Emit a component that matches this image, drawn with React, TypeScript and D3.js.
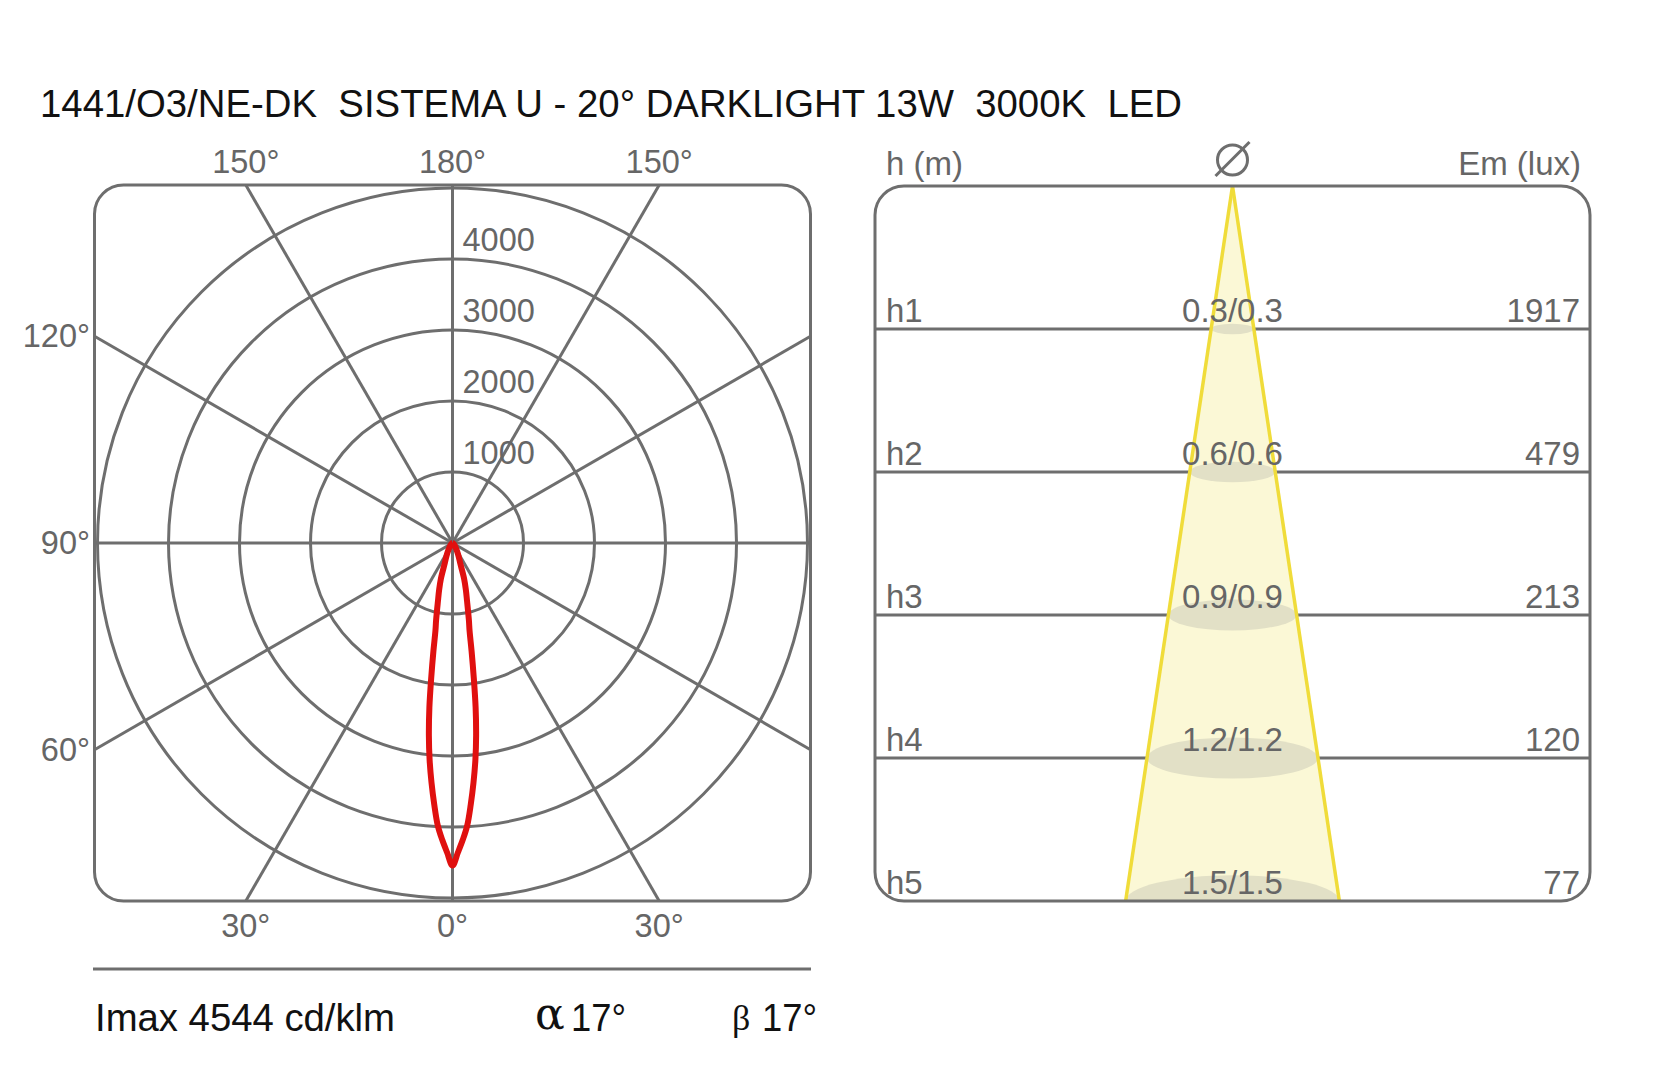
import React from "react";
import * as d3 from "d3";

const TITLE = "1441/O3/NE-DK  SISTEMA U - 20° DARKLIGHT 13W  3000K  LED";
const ringValues = [1000, 2000, 3000, 4000, 5000];
const ringLabels = ["1000", "2000", "3000", "4000"];
const spokeAngles = [0, 30, 60, 90, 120, 150, 180, 210, 240, 270, 300, 330];
const topLabels = ["150°", "180°", "150°"];
const sideLabels = ["120°", "90°", "60°"];
const bottomLabels = ["30°", "0°", "30°"];

// luminous intensity (cd/klm) by angle from nadir (deg), symmetric
const curveAngles = [0, 1, 2, 3, 4, 5, 6, 7, 8, 9, 10, 11, 12, 14, 16, 18, 21, 25, 30, 40, 50, 60, 70, 80, 90];
const curveValues = [4544, 4360, 4180, 3980, 3690, 3390, 3080, 2730, 2340, 1910, 1550, 1260, 1110, 850, 680, 530, 300, 200, 120, 50, 20, 8, 2, 0, 0];

const heightLabels = ["h1", "h2", "h3", "h4", "h5"];
const heights = [1, 2, 3, 4, 5];
const diameterLabels = ["0.3/0.3", "0.6/0.6", "0.9/0.9", "1.2/1.2", "1.5/1.5"];
const illuminance = ["1917", "479", "213", "120", "77"];
const beamAngle = 17;

const GRAY = "#6e6e6e";
const TXT = "#666666";
const FONT = "Liberation Sans, Arial, sans-serif";

export default function App() {
  // polar panel
  const cx = 452.5, cy = 543, H = 358;
  const rScale = d3.scaleLinear().domain([0, 5000]).range([0, 355]);

  const spokeEnd = (deg: number) => {
    const a = (deg * Math.PI) / 180;
    const dx = Math.sin(a), dy = Math.cos(a);
    const t = H / Math.max(Math.abs(dx), Math.abs(dy));
    return [cx + dx * t, cy + dy * t];
  };

  const pts: [number, number][] = [];
  for (let i = curveAngles.length - 1; i >= 0; i--) pts.push([-curveAngles[i], curveValues[i]]);
  for (let i = 1; i < curveAngles.length; i++) pts.push([curveAngles[i], curveValues[i]]);
  const radial = d3
    .lineRadial<[number, number]>()
    .angle((d) => Math.PI + (d[0] * Math.PI) / 180)
    .radius((d) => rScale(d[1]))
    .curve(d3.curveCatmullRom.alpha(0.5));
  const lobe = radial(pts) || "";

  const sideOff = H * Math.tan(Math.PI / 6);

  // right panel
  const px0 = 875, px1 = 1590, py0 = 186, py1 = 901;
  const pcx = (px0 + px1) / 2;
  const yScale = d3.scaleLinear().domain([0, 5]).range([py0, py1]);
  const tanHalf = Math.tan(((beamAngle / 2) * Math.PI) / 180);
  const halfW = (h: number) => (yScale(h) - py0) * tanHalf;
  const coneBottom = halfW(5);

  return (
    <svg width={1659} height={1080} style={{ position: "absolute", left: 0, top: 0, background: "#fff" }} fontFamily={FONT}>
      <rect x={0} y={0} width={1659} height={1080} fill="#fff" />
      <defs>
        <clipPath id="rp">
          <rect x={px0} y={py0} width={px1 - px0} height={py1 - py0} rx={29} ry={29} />
        </clipPath>
      </defs>

      <text x={40} y={117} fontSize={38} fill="#111" textLength={1142} lengthAdjust="spacingAndGlyphs" xmlSpace="preserve" style={{ whiteSpace: "pre" }}>
        {TITLE}
      </text>

      {/* Polar panel */}
      <g stroke={GRAY} strokeWidth={3} fill="none">
        {ringValues.map((v) => (
          <circle key={v} cx={cx} cy={cy} r={rScale(v)} />
        ))}
        {spokeAngles.map((a) => {
          const [x, y] = spokeEnd(a);
          return <line key={a} x1={cx} y1={cy} x2={x} y2={y} />;
        })}
        <rect x={cx - H} y={cy - H} width={2 * H} height={2 * H} rx={29} ry={29} />
      </g>
      <g fill={TXT} fontSize={32.5}>
        {ringLabels.map((l, i) => (
          <text key={l} x={cx + 10} y={cy - rScale(ringValues[i]) - 8}>
            {l}
          </text>
        ))}
        {topLabels.map((l, i) => (
          <text key={"t" + i} x={cx + (i - 1) * sideOff} y={173} textAnchor="middle">
            {l}
          </text>
        ))}
        {bottomLabels.map((l, i) => (
          <text key={"b" + i} x={cx + (i - 1) * sideOff} y={937} textAnchor="middle">
            {l}
          </text>
        ))}
        {sideLabels.map((l, i) => (
          <text key={"s" + i} x={90} y={cy + (i - 1) * sideOff + 11} textAnchor="end">
            {l}
          </text>
        ))}
      </g>
      <path d={lobe} transform={`translate(${cx},${cy})`} fill="none" stroke="#e0100f" strokeWidth={6} strokeLinejoin="round" />

      <line x1={93} y1={969} x2={811} y2={969} stroke={GRAY} strokeWidth={3} />
      <text x={95} y={1031} fontSize={38} fill="#111" textLength={300} lengthAdjust="spacingAndGlyphs">
        Imax 4544 cd/klm
      </text>
      <text x={535} y={1029} fontSize={44} fill="#111" fontFamily="DejaVu Serif, serif">
        α
      </text>
      <text x={571} y={1031} fontSize={38} fill="#111" textLength={55} lengthAdjust="spacingAndGlyphs">
        17°
      </text>
      <text x={732} y={1030} fontSize={36} fill="#111" fontFamily="Liberation Serif, serif">
        β
      </text>
      <text x={762} y={1031} fontSize={38} fill="#111" textLength={55} lengthAdjust="spacingAndGlyphs">
        17°
      </text>

      {/* Right panel */}
      <g fill={TXT} fontSize={33}>
        <text x={886} y={175}>h (m)</text>
        <text x={1581} y={175} textAnchor="end">Em (lux)</text>
      </g>
      <g stroke={GRAY} strokeWidth={3} fill="none">
        <circle cx={pcx} cy={160} r={15} />
        <line x1={pcx - 17} y1={176} x2={pcx + 17} y2={142} />
      </g>
      <g stroke={GRAY} strokeWidth={3}>
        {heights.slice(0, 4).map((h) => (
          <line key={h} x1={px0} x2={px1} y1={yScale(h)} y2={yScale(h)} />
        ))}
      </g>
      <g clipPath="url(#rp)">
        <path
          d={`M${pcx},${py0} L${pcx + coneBottom},${py1} L${pcx - coneBottom},${py1} Z`}
          fill="#fbf8d6"
        />
        {heights.map((h) => (
          <ellipse key={h} cx={pcx} cy={yScale(h)} rx={halfW(h)} ry={halfW(h) * 0.24} fill="#e2e0c6" />
        ))}
        <line x1={pcx} y1={py0} x2={pcx + coneBottom} y2={py1} stroke="#f0dc3a" strokeWidth={3.5} />
        <line x1={pcx} y1={py0} x2={pcx - coneBottom} y2={py1} stroke="#f0dc3a" strokeWidth={3.5} />
      </g>
      <rect x={px0} y={py0} width={px1 - px0} height={py1 - py0} rx={29} ry={29} fill="none" stroke={GRAY} strokeWidth={3} />
      <g fill={TXT} fontSize={33}>
        {heights.map((h, i) => (
          <g key={h}>
            <text x={886} y={yScale(h) - 7}>{heightLabels[i]}</text>
            <text x={pcx} y={yScale(h) - 7} textAnchor="middle">{diameterLabels[i]}</text>
            <text x={1580} y={yScale(h) - 7} textAnchor="end">{illuminance[i]}</text>
          </g>
        ))}
      </g>
    </svg>
  );
}
